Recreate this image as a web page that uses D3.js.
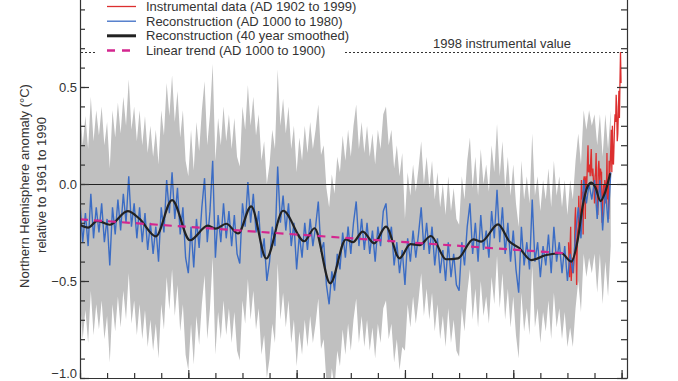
<!DOCTYPE html>
<html><head><meta charset="utf-8">
<script src="https://cdn.jsdelivr.net/npm/d3@7"></script>
<style>html,body{margin:0;padding:0;background:#fff;overflow:hidden}svg{display:block;font-family:"Liberation Sans",Arial,Helvetica,sans-serif}</style>
</head><body><svg id="chart" width="678" height="381"></svg>
<script>
// ---------------- DATA ----------------
// Reconstruction (AD 1000 to 1980), sampled every 5 years
const reconStart = 1000, reconStep = 5;
const reconstruction = [
 -0.10,-0.30,-0.15,-0.32,-0.05,-0.28,-0.12,-0.25,-0.10,-0.30,-0.18,-0.42,-0.12,-0.26,-0.08,-0.24,-0.05,-0.20,0.04,-0.22,
 -0.10,-0.28,-0.12,-0.30,-0.15,-0.34,-0.20,-0.36,-0.22,-0.40,-0.12,-0.25,0.02,-0.15,0.06,-0.18,-0.02,-0.26,-0.12,-0.38,
 -0.46,-0.22,-0.43,-0.18,-0.33,-0.12,0.03,-0.30,-0.14,0.12,-0.38,-0.16,-0.30,-0.10,-0.28,-0.14,-0.32,-0.16,-0.36,-0.41,
 -0.10,-0.22,0.01,-0.20,-0.05,-0.25,-0.14,-0.38,-0.28,-0.50,-0.40,-0.22,-0.32,0.09,-0.20,-0.06,-0.24,-0.10,-0.32,-0.20,
 -0.44,-0.26,-0.38,-0.20,-0.34,-0.18,-0.32,-0.22,-0.09,-0.35,-0.30,-0.52,-0.62,-0.45,-0.55,-0.36,-0.44,-0.25,-0.38,-0.22,
 -0.36,-0.20,-0.09,-0.32,-0.18,-0.34,-0.20,-0.36,-0.24,-0.40,-0.22,-0.32,-0.14,-0.10,-0.30,-0.22,-0.42,-0.30,-0.46,-0.34,
 -0.52,-0.28,-0.40,-0.24,-0.38,-0.26,-0.12,-0.34,-0.20,-0.36,-0.22,-0.42,-0.28,-0.46,-0.34,-0.50,-0.30,-0.48,-0.36,-0.52,
 -0.55,-0.30,-0.42,-0.22,-0.10,-0.36,-0.20,-0.40,-0.16,-0.34,-0.24,-0.38,-0.14,-0.28,-0.03,-0.30,-0.12,-0.36,-0.20,-0.40,
 -0.24,-0.44,-0.56,-0.22,-0.42,-0.30,-0.44,-0.08,-0.40,-0.30,-0.48,-0.32,-0.42,-0.26,-0.46,-0.22,-0.40,-0.30,-0.46,-0.32,
 -0.50,-0.36,-0.46,-0.26,-0.12,-0.28,0.02,-0.10,0.00,-0.08,0.02,-0.18,0.02,-0.24,-0.02,-0.20,0.06
];
// Uncertainty band (grey), upper and lower edges, same 5-year sampling
const bandUpper = [
 0.40,0.20,0.35,0.18,0.45,0.22,0.38,0.25,0.40,0.20,0.32,0.08,0.38,0.24,0.42,0.26,0.45,0.30,0.54,0.28,
 0.40,0.22,0.38,0.20,0.35,0.16,0.30,0.14,0.28,0.10,0.38,0.25,0.52,0.35,0.56,0.32,0.48,0.24,0.38,0.12,
 0.04,0.28,0.07,0.32,0.17,0.38,0.53,0.20,0.36,0.62,0.12,0.34,0.20,0.40,0.22,0.36,0.18,0.34,0.14,0.09,
 0.40,0.28,0.51,0.30,0.45,0.25,0.36,0.12,0.22,0.00,0.10,0.28,0.18,0.59,0.30,0.44,0.26,0.40,0.18,0.30,
 0.06,0.24,0.12,0.30,0.16,0.32,0.18,0.28,0.41,0.15,0.20,-0.02,-0.12,0.05,-0.05,0.14,0.06,0.25,0.12,0.28,
 0.14,0.30,0.41,0.18,0.32,0.16,0.30,0.14,0.26,0.10,0.28,0.18,0.36,0.40,0.20,0.28,0.08,0.20,0.04,0.16,
 -0.18,0.06,-0.06,0.10,-0.04,0.08,0.22,0.00,0.14,-0.02,0.12,-0.08,0.06,-0.12,0.00,-0.16,0.04,-0.14,-0.02,-0.18,
 -0.21,0.04,-0.08,0.12,0.24,-0.02,0.14,-0.06,0.18,0.00,0.10,-0.04,0.20,0.06,0.31,0.04,0.22,-0.02,0.14,-0.06,
 0.10,-0.10,-0.22,0.12,-0.08,0.04,-0.10,0.26,-0.06,0.04,-0.14,0.02,-0.08,0.08,-0.12,0.12,-0.06,0.04,-0.12,0.02,
 -0.16,0.02,-0.08,0.12,0.26,0.10,0.38,0.28,0.38,0.30,0.36,0.20,0.36,0.14,0.36,0.18,0.38
];
const bandLower = [
 -0.60,-0.80,-0.65,-0.82,-0.55,-0.78,-0.62,-0.75,-0.60,-0.80,-0.68,-0.92,-0.62,-0.76,-0.58,-0.74,-0.55,-0.70,-0.46,-0.72,
 -0.60,-0.78,-0.62,-0.80,-0.65,-0.84,-0.70,-0.86,-0.72,-0.90,-0.62,-0.75,-0.48,-0.65,-0.44,-0.68,-0.52,-0.76,-0.62,-0.88,
 -0.96,-0.72,-0.93,-0.68,-0.83,-0.62,-0.47,-0.80,-0.64,-0.38,-0.88,-0.66,-0.80,-0.60,-0.78,-0.64,-0.82,-0.66,-0.86,-0.91,
 -0.60,-0.72,-0.49,-0.70,-0.55,-0.75,-0.64,-0.88,-0.78,-1.00,-0.90,-0.72,-0.82,-0.41,-0.70,-0.56,-0.74,-0.60,-0.82,-0.70,
 -0.94,-0.76,-0.88,-0.70,-0.84,-0.68,-0.82,-0.72,-0.59,-0.85,-0.80,-1.02,-1.12,-0.95,-1.05,-0.86,-0.94,-0.75,-0.88,-0.72,
 -0.86,-0.70,-0.59,-0.82,-0.68,-0.84,-0.70,-0.86,-0.74,-0.90,-0.72,-0.82,-0.64,-0.60,-0.80,-0.72,-0.92,-0.80,-0.96,-0.84,
 -0.86,-0.62,-0.74,-0.58,-0.72,-0.60,-0.46,-0.68,-0.54,-0.70,-0.56,-0.76,-0.62,-0.80,-0.68,-0.84,-0.64,-0.82,-0.70,-0.86,
 -0.89,-0.64,-0.76,-0.56,-0.44,-0.70,-0.54,-0.74,-0.50,-0.68,-0.58,-0.72,-0.48,-0.62,-0.37,-0.64,-0.46,-0.70,-0.54,-0.74,
 -0.58,-0.78,-0.90,-0.56,-0.76,-0.64,-0.78,-0.42,-0.74,-0.64,-0.82,-0.66,-0.76,-0.60,-0.80,-0.56,-0.74,-0.64,-0.80,-0.66,
 -0.84,-0.74,-0.84,-0.64,-0.50,-0.66,-0.36,-0.48,-0.38,-0.46,-0.36,-0.56,-0.36,-0.62,-0.40,-0.58,-0.32
];
// Reconstruction, 40 year smoothed: [year, value]
const smoothed = [
 [1000,-0.21],[1015,-0.225],[1032,-0.19],[1055,-0.21],[1088,-0.14],[1110,-0.18],[1140,-0.27],[1170,-0.083],
 [1203,-0.29],[1236,-0.215],[1251,-0.23],[1270,-0.205],[1292,-0.255],[1316,-0.115],[1344,-0.384],[1375,-0.138],
 [1414,-0.295],[1433,-0.228],[1462,-0.512],[1491,-0.285],[1504,-0.30],[1522,-0.245],[1543,-0.306],[1565,-0.22],
 [1590,-0.383],[1610,-0.31],[1627,-0.315],[1648,-0.268],[1676,-0.388],[1698,-0.383],[1726,-0.285],[1741,-0.297],
 [1772,-0.208],[1793,-0.297],[1811,-0.33],[1833,-0.392],[1861,-0.366],[1889,-0.357],[1907,-0.40],[1919,-0.289],
 [1928,-0.117],[1937,-0.014],[1944,0.007],[1952,-0.02],[1961,-0.088],[1970,-0.04],[1979,0.055]
];
// Instrumental data (AD 1902 to 1999), annual
const instStart = 1902;
const instrumental = [
 -0.30,-0.40,-0.48,-0.32,-0.22,-0.50,-0.44,-0.42,
 -0.38,-0.46,-0.40,-0.36,-0.18,-0.12,-0.32,-0.52,-0.34,-0.24,
 -0.22,-0.06,-0.20,-0.16,-0.22,-0.08,0.02,-0.08,-0.04,-0.26,
 0.02,0.04,0.02,-0.18,0.04,-0.02,0.02,0.12,0.20,0.06,
 0.08,0.10,0.04,0.12,0.18,0.06,0.04,0.08,0.02,0.00,
 -0.10,0.04,0.06,0.16,-0.04,-0.06,-0.16,0.08,0.12,0.06,
 0.00,0.08,0.06,0.06,-0.20,-0.12,-0.04,0.00,-0.06,0.02,
 0.00,-0.10,-0.04,0.16,-0.08,0.02,-0.18,0.12,0.04,0.10,
 0.18,0.28,0.06,0.30,0.12,0.10,0.20,0.30,0.36,0.32,
 0.46,0.40,0.22,0.26,0.36,0.48,0.34,0.52,0.68,0.52
];
// Linear trend (AD 1000 to 1900)
const trend = [[1000,-0.182],[1900,-0.358]];
const yMajorTicks = [0.5, 0.0, -0.5, -1.0];
const yMajorLabels = ["0.5", "0.0", "\u22120.5", "\u22121.0"];
const legendLabels = ["Instrumental data (AD 1902 to 1999)","Reconstruction (AD 1000 to 1980)","Reconstruction (40 year smoothed)","Linear trend (AD 1000 to 1900)"];
const yTitle = ["Northern Hemisphere anomaly (\u00B0C)", "relative to 1961 to 1990"];
const refLabel = "1998 instrumental value";

// ---------------- CHART ----------------
const C = {gray:"#c0c0c0", blue:"#3b6cc4", red:"#dc2f2f", black:"#222", mag:"#d4268f", axis:"#333", text:"#333"};
const svg = d3.select("#chart");
const x = d3.scaleLinear().domain([1000, 2010]).range([80, 627]);
const y = d3.scaleLinear().domain([-1, 1]).range([378, -10]);

const reconPts = reconstruction.map((v,i)=>({yr: reconStart + i*reconStep, v, hi: bandUpper[i], lo: bandLower[i]}));
const instPts = instrumental.map((v,i)=>({yr: instStart + i, v}));

svg.append("defs").append("clipPath").attr("id","plot")
  .append("rect").attr("x",80.5).attr("y",-10).attr("width",546.5).attr("height",388);
const g = svg.append("g").attr("clip-path","url(#plot)");

g.append("path").datum(reconPts)
  .attr("d", d3.area().x(d=>x(d.yr)).y0(d=>y(d.lo)).y1(d=>y(d.hi)))
  .attr("fill", C.gray);

g.append("path").datum(instPts)
  .attr("d", d3.line().x(d=>x(d.yr)).y(d=>y(d.v)))
  .attr("fill","none").attr("stroke",C.red).attr("stroke-width",1.3);

g.append("path").datum(reconPts)
  .attr("d", d3.line().x(d=>x(d.yr)).y(d=>y(d.v)))
  .attr("fill","none").attr("stroke",C.blue).attr("stroke-width",1.4);

g.append("line").attr("x1",x(1000)).attr("x2",627).attr("y1",y(0)+0.5).attr("y2",y(0)+0.5)
  .attr("stroke",C.black).attr("stroke-width",1);

g.append("path").datum(smoothed)
  .attr("d", d3.line().x(d=>x(d[0])).y(d=>y(d[1])).curve(d3.curveMonotoneX))
  .attr("fill","none").attr("stroke",C.black).attr("stroke-width",2.2);

g.append("path").datum(trend)
  .attr("d", d3.line().x(d=>x(d[0])).y(d=>y(d[1])))
  .attr("fill","none").attr("stroke",C.mag).attr("stroke-width",2.2).attr("stroke-dasharray","8,6");

// 1998 instrumental value reference line
const v1998 = instrumental[1998 - instStart];
svg.append("line").attr("x1",x(1000)+1).attr("x2",627).attr("y1",Math.round(y(v1998))+0.5).attr("y2",Math.round(y(v1998))+0.5)
  .attr("stroke",C.axis).attr("stroke-width",1.2).attr("stroke-dasharray","2,2");
svg.append("text").attr("x",433).attr("y",47.5).attr("font-size",13).attr("fill",C.text).text(refLabel);

// Axes
function style(sel){ sel.selectAll("path,line").attr("stroke",C.axis).attr("stroke-width",1.2); sel.selectAll("text").attr("fill",C.text).attr("font-size",13).attr("font-family","Liberation Sans, Arial, sans-serif"); }
const yMinor = d3.range(-10, 11).map(k=>k/10);
svg.append("g").attr("transform","translate(80,0)")
  .call(d3.axisLeft(y).tickValues(yMinor).tickSize(-5).tickSizeOuter(0).tickFormat("")).call(style);
svg.append("g").attr("transform","translate(80,0)")
  .call(d3.axisLeft(y).tickValues(yMajorTicks).tickSize(-9).tickSizeOuter(0).tickPadding(3)
  .tickFormat((d,i)=>yMajorLabels[i])).call(style).call(s=>s.select(".domain").remove())
  .call(s=>s.selectAll(".tick text").filter(d=>d===-1).attr("dy","-0.05em"));
svg.append("g").attr("transform","translate(627,0)")
  .call(d3.axisRight(y).tickValues(yMinor).tickSize(-6).tickSizeOuter(0).tickFormat("")).call(style);
svg.append("g").attr("transform","translate(627,0)")
  .call(d3.axisRight(y).tickValues(yMajorTicks).tickSize(-10).tickSizeOuter(0).tickFormat("")).call(style).call(s=>s.select(".domain").remove());
const xMinor = d3.range(1000, 2001, 50), xMajor = d3.range(1000, 2001, 200);
svg.append("g").attr("transform","translate(0,378)")
  .call(d3.axisBottom(x).tickValues(xMinor).tickSize(-5).tickSizeOuter(0).tickFormat("")).call(style);
svg.append("g").attr("transform","translate(0,378)")
  .call(d3.axisBottom(x).tickValues(xMajor).tickSize(-8).tickSizeOuter(0).tickFormat("")).call(style).call(s=>s.select(".domain").remove());

// Y title
svg.append("text").attr("transform","translate(29,186) rotate(-90)").attr("text-anchor","middle")
  .attr("font-size",13).attr("fill",C.text).text(yTitle[0]);
svg.append("text").attr("transform","translate(46,185) rotate(-90)").attr("text-anchor","middle")
  .attr("font-size",13).attr("fill",C.text).text(yTitle[1]);

// Legend
const lg = svg.append("g");
lg.append("rect").attr("x",95).attr("y",-10).attr("width",250).attr("height",69).attr("fill","#fff");
const legStyles = [
  {c:C.red, w:1.3, dash:null},
  {c:C.blue, w:1.3, dash:null},
  {c:C.black, w:3, dash:null},
  {c:C.mag, w:2.5, dash:"8,7"}
];
const legBase = [11, 25.7, 40.3, 55];
legendLabels.forEach((t,i)=>{
  const yy = legBase[i] - 4.5;
  const l = lg.append("line").attr("x1",107).attr("x2",136).attr("y1",yy).attr("y2",yy)
    .attr("stroke",legStyles[i].c).attr("stroke-width",legStyles[i].w);
  if (legStyles[i].dash) l.attr("stroke-dasharray",legStyles[i].dash);
  lg.append("text").attr("x",146).attr("y",legBase[i]).attr("font-size",13).attr("fill",C.text).text(t);
});
</script></body></html>
